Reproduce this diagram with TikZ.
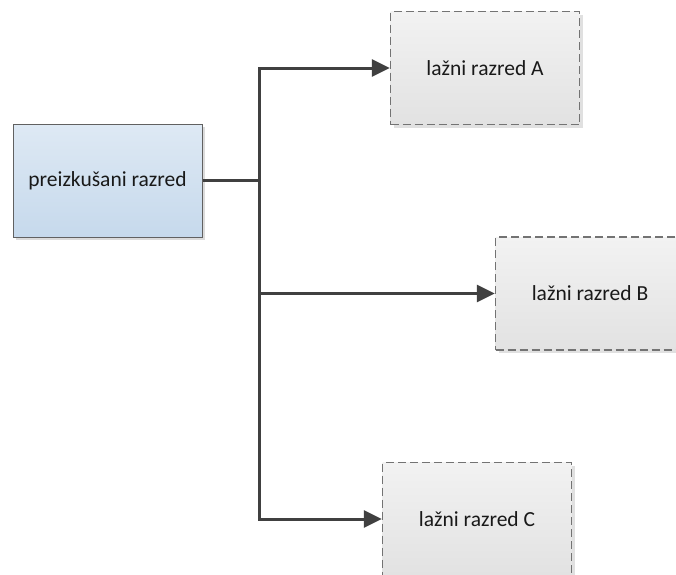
\documentclass[tikz,border=0pt]{standalone}
\usepackage{fontspec}
\setmainfont{Carlito}
\usetikzlibrary{shadows,arrows.meta}
\definecolor{srctop}{RGB}{222,233,244}
\definecolor{srcbot}{RGB}{198,217,236}
\definecolor{faketop}{RGB}{242,242,242}
\definecolor{fakebot}{RGB}{226,226,226}
\definecolor{linec}{RGB}{64,64,64}
\begin{document}
\begin{tikzpicture}[x=1pt,y=-1pt,
  base/.style={minimum width=189pt, minimum height=113pt, inner sep=0pt,
    font=\fontsize{21.5}{25}\selectfont, text=black!90},
  srcbox/.style={base, draw=black!62, line width=1pt,
    top color=srctop, bottom color=srcbot,
    drop shadow={shadow xshift=3pt, shadow yshift=-3pt, fill=black!14, opacity=1}},
  fakebox/.style={base, draw=black!55, line width=1.3pt, dash pattern=on 8pt off 4pt,
    top color=faketop, bottom color=fakebot,
    drop shadow={shadow xshift=3pt, shadow yshift=-3pt, fill=black!12, opacity=1}},
  conn/.style={draw=linec, line width=3pt},
  arr/.style={conn, -{Triangle[length=18pt,width=17pt]}}]
\useasboundingbox (0,0) rectangle (676,574);
\node[srcbox] (src) at (107.5,180.5) {preizkušani razred};
\node[fakebox] (A) at (485,68) {lažni razred A};
\node[fakebox] (B) at (590,293.5) {lažni razred B};
\node[fakebox] (C) at (477,519) {lažni razred C};
\coordinate (j) at (259,180.5);
\draw[conn] (src.east) -- (j);
\draw[arr] (j) |- (A.west);
\draw[arr] (j) |- (B.west);
\draw[arr] (j) |- (C.west);
\end{tikzpicture}
\end{document}
